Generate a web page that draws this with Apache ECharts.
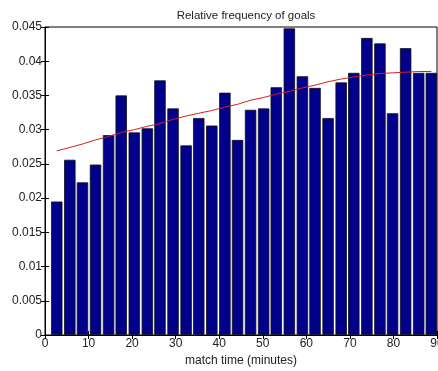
<!DOCTYPE html>
<html>
<head>
<meta charset="utf-8">
<script src="https://cdn.jsdelivr.net/npm/echarts@6/dist/echarts.min.js"></script>
<style>
html,body{margin:0;padding:0;background:#fff;}
#chart{width:438px;height:371px;}
</style>
</head>
<body>
<div id="chart"></div>
<script>
// Bin centers (minutes)
const binCenters = [2.7, 5.7, 8.6, 11.6, 14.6, 17.5, 20.5, 23.5, 26.4, 29.4,
  32.4, 35.3, 38.3, 41.3, 44.2, 47.2, 50.2, 53.1, 56.1, 59.1,
  62.0, 65.0, 68.0, 70.9, 73.9, 76.9, 79.8, 82.8, 85.8, 88.7];
// Relative frequency of goals per bin
const frequencies = [0.0195, 0.0256, 0.0223, 0.0249, 0.0292, 0.0350, 0.0296, 0.0302, 0.0372, 0.0331,
  0.0277, 0.0317, 0.0306, 0.0354, 0.0285, 0.0329, 0.0331, 0.0362, 0.0448, 0.0378,
  0.0361, 0.0317, 0.0369, 0.0383, 0.0434, 0.0426, 0.0324, 0.0419, 0.0383, 0.0383];
// Smoothed trend (red line)
const trend = [0.0269, 0.0274, 0.0279, 0.0285, 0.0290, 0.0296, 0.0300, 0.0305, 0.0309, 0.0315,
  0.0320, 0.0324, 0.0328, 0.0333, 0.0337, 0.0343, 0.0347, 0.0352, 0.0356, 0.0361,
  0.0365, 0.0370, 0.0374, 0.0377, 0.0380, 0.0382, 0.0383, 0.0384, 0.0385, 0.0385];
const xTicks = [0, 10, 20, 30, 40, 50, 60, 70, 80, 90];
const yTicks = ['0', '0.005', '0.01', '0.015', '0.02', '0.025', '0.03', '0.035', '0.04', '0.045'];

const FONT = 'Liberation Sans, Arial, sans-serif';
const chart = echarts.init(document.getElementById('chart'), null, {renderer: 'canvas'});

const gridL = 45, gridR = 1, gridT = 27, gridB = 36;
const tick = {show: true, inside: true, length: 4, lineStyle: {color: '#000', width: 1}};

const option = {
  animation: false,
  backgroundColor: '#fff',
  title: {
    text: 'Relative frequency of goals',
    left: 241, top: 5,
    textAlign: 'center',
    textStyle: {fontFamily: FONT, fontSize: 11.5, fontWeight: 'normal', color: '#222'}
  },
  grid: {left: gridL, right: gridR, top: gridT, bottom: gridB, containLabel: false, outerBoundsMode: 'none',
    show: true, borderColor: '#000', borderWidth: 1, backgroundColor: '#fff'},
  xAxis: [{
    type: 'value', min: xTicks[0], max: xTicks[xTicks.length - 1], interval: 10,
    position: 'bottom',
    axisLine: {show: true, lineStyle: {color: '#000', width: 1}},
    axisTick: tick,
    splitLine: {show: false},
    axisLabel: {margin: 3, fontFamily: FONT, fontSize: 12, color: '#222', showMaxLabel: true, showMinLabel: true, hideOverlap: false},
    name: 'match time (minutes)', nameLocation: 'middle', nameGap: 20,
    nameTextStyle: {fontFamily: FONT, fontSize: 12, color: '#222'}
  }, {
    type: 'value', min: xTicks[0], max: xTicks[xTicks.length - 1], interval: 10,
    position: 'top',
    axisLine: {show: true, lineStyle: {color: '#000', width: 1}},
    axisTick: tick, axisLabel: {show: false}, splitLine: {show: false}
  }],
  yAxis: [{
    type: 'value', min: 0, max: 0.045, interval: 0.005,
    position: 'left',
    axisLine: {show: true, lineStyle: {color: '#000', width: 1}},
    axisTick: tick,
    splitLine: {show: false},
    axisLabel: {
      margin: 3, fontFamily: FONT, fontSize: 12, color: '#222', hideOverlap: false,
      formatter: function (v) { const i = Math.round(v / 0.005); return yTicks[i] !== undefined ? yTicks[i] : ''; }
    }
  }, {
    type: 'value', min: 0, max: 0.045, interval: 0.005,
    position: 'right',
    axisLine: {show: true, lineStyle: {color: '#000', width: 1}},
    axisTick: tick, axisLabel: {show: false}, splitLine: {show: false}
  }],
  series: [{
    type: 'bar',
    xAxisIndex: 0, yAxisIndex: 0,
    data: binCenters.map((c, i) => [c, frequencies[i]]),
    barWidth: 11.4,
    itemStyle: {color: '#00008a', borderColor: '#101018', borderWidth: 0.8},
    z: 2
  }, {
    type: 'line',
    xAxisIndex: 0, yAxisIndex: 0,
    data: binCenters.map((c, i) => [c, trend[i]]),
    showSymbol: false, symbol: 'none',
    lineStyle: {color: '#d81e1e', width: 1},
    z: 3
  }]
};
chart.setOption(option);
</script>
</body>
</html>
